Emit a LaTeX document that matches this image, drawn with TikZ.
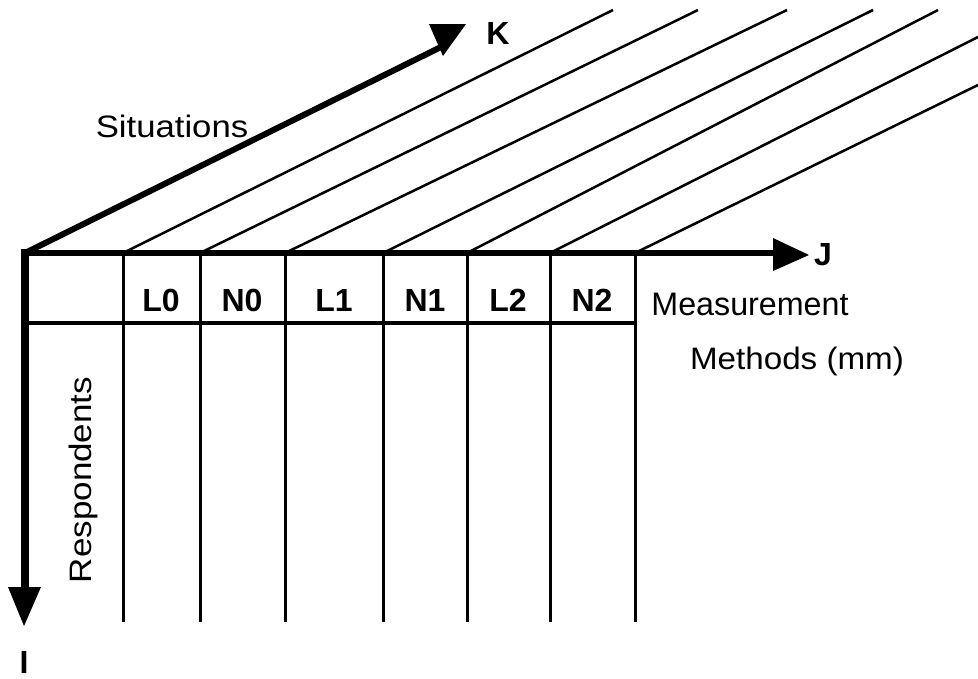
\documentclass[tikz,border=0pt]{standalone}
\usepackage{fontspec}
\setmainfont{Liberation Sans}
\usepackage{graphicx}
\begin{document}
\begin{tikzpicture}[x=1pt,y=-1pt,
  txt/.style={font=\fontsize{31}{31}\selectfont, inner sep=0pt},
  lab/.style={font=\fontsize{32}{32}\selectfont\bfseries, inner sep=0pt},
  axisline/.style={line width=6pt},
  cellline/.style={line width=3pt},
  diagline/.style={line width=2.5pt},
  tipfill/.style={fill=black}]
\useasboundingbox (0,0) rectangle (978,678);
\fill[white] (0,0) rectangle (978,678);

% corner and table coordinates
\coordinate (O) at (25,253);
\foreach \n/\x in {1/123,2/200,3/285,4/383,5/467,6/550,7/635}{
  \coordinate (t\n) at (\x,253);
  \coordinate (b\n) at (\x,622);
}
\coordinate (hL) at (25,323);
\coordinate (hR) at (635,323);

% diagonal situation lines
\coordinate (d1) at (613,10);
\coordinate (d2) at (698,10);
\coordinate (d3) at (787,10);
\coordinate (d4) at (873,10);
\coordinate (d5) at (938,10);
\coordinate (d6) at (978,37);
\coordinate (d7) at (978,85);
\foreach \n in {1,...,7}{
  \draw[diagline] (t\n) -- (d\n);
}

% table verticals
\foreach \n in {1,...,7}{
  \draw[cellline] (t\n) -- (b\n);
}
\draw[line width=4pt] (hL) -- (hR);

% I axis (respondents)
\coordinate (Iend) at (25,590);
\draw[line width=8pt] (25,249) -- (Iend);
\fill[tipfill] (8,587) -- (41,587) -- (24,626) -- cycle;

% J axis
\coordinate (Jend) at (775,253);
\draw[axisline] (21,253) -- (Jend);
\fill[tipfill] (773,238) -- (809,255) -- (773,271) -- cycle;

% K axis
\coordinate (Kend) at (445,45);
\draw[axisline, line cap=round] (O) -- (Kend);
\fill[tipfill] (429,24) -- (466,24) -- (443,56) -- cycle;

% axis letters
\node[lab] (K) at (498,33) {K};
\node[lab] (J) at (823,255) {J};
\node[lab] (I) at (24,662) {I};

% header labels
\node[lab] (L0) at (161,300) {L0};
\node[lab] (N0) at (242,300) {N0};
\node[lab] (L1) at (334,300) {L1};
\node[lab] (N1) at (425,300) {N1};
\node[lab] (L2) at (508,300) {L2};
\node[lab] (N2) at (592,300) {N2};

% texts
\node[txt] (sit) at (172,126) {\scalebox{1.12}[1]{Situations}};
\node[txt] (meas) at (750,304) {\scalebox{1.04}[1.05]{Measurement}};
\node[txt] (meth) at (797,361) {\scalebox{1.07}[1]{Methods (mm)}};
\node[txt, rotate=90] (resp) at (83,480) {\scalebox{1.13}[1]{Respondents}};
\end{tikzpicture}
\end{document}
